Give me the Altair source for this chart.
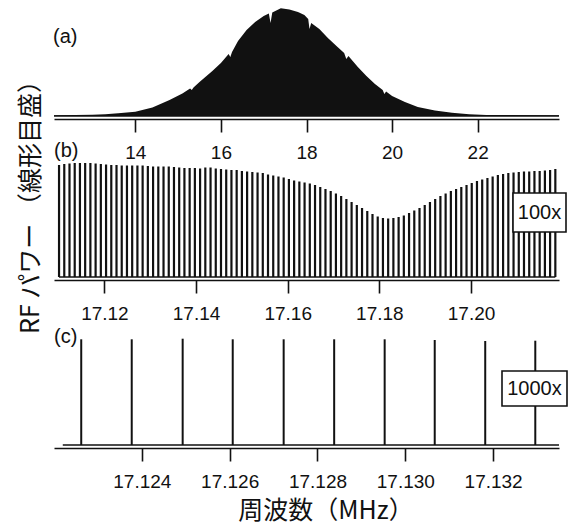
import altair as alt
import pandas as pd

# ---------------- data ----------------
# (a) full comb envelope: frequency (MHz) and relative power (arb.)
a_freq = [12.10, 12.60, 13.00, 13.30, 13.60, 14.00, 14.40, 14.80, 15.10, 15.28,
          15.32, 15.36, 15.50, 15.80, 16.00, 16.18, 16.22, 16.26, 16.40, 16.60,
          16.80, 17.00, 17.12, 17.16, 17.20, 17.40, 17.60, 17.80, 17.95, 18.04,
          18.07, 18.11, 18.30, 18.50, 18.70, 18.88, 18.93, 18.98, 19.20, 19.40,
          19.60, 19.78, 19.82, 19.86, 20.00, 20.30, 20.60, 21.00, 21.40, 21.80,
          22.20, 23.90]
a_power = [0.8, 1.0, 1.3, 1.7, 2.7, 4.3, 8.6, 16.0, 22.5, 27.5,
           26.0, 28.5, 34.0, 45.0, 53.0, 62.0, 59.0, 64.0, 75.0, 86.0,
           94.0, 100.0, 102.5, 93.0, 103.5, 107.7, 106.5, 104.0, 101.0, 97.0,
           87.0, 93.0, 87.0, 78.0, 70.0, 63.0, 57.0, 60.0, 49.0, 40.0,
           32.0, 26.0, 22.0, 24.5, 20.0, 14.0, 9.0, 5.5, 3.2, 1.7,
           1.1, 0.8]

# (b) 100x zoom: individual comb teeth
b_freq = [17.11010, 17.11124, 17.11238, 17.11352, 17.11466, 17.11580, 17.11694, 17.11808,
          17.11922, 17.12036, 17.12150, 17.12264, 17.12378, 17.12492, 17.12606, 17.12720,
          17.12834, 17.12948, 17.13062, 17.13176, 17.13290, 17.13404, 17.13518, 17.13632,
          17.13746, 17.13860, 17.13974, 17.14088, 17.14202, 17.14316, 17.14430, 17.14544,
          17.14658, 17.14772, 17.14886, 17.15000, 17.15114, 17.15228, 17.15342, 17.15456,
          17.15570, 17.15684, 17.15798, 17.15912, 17.16026, 17.16140, 17.16254, 17.16368,
          17.16482, 17.16596, 17.16710, 17.16824, 17.16938, 17.17052, 17.17166, 17.17280,
          17.17394, 17.17508, 17.17622, 17.17736, 17.17850, 17.17964, 17.18078, 17.18192,
          17.18306, 17.18420, 17.18534, 17.18648, 17.18762, 17.18876, 17.18990, 17.19104,
          17.19218, 17.19332, 17.19446, 17.19560, 17.19674, 17.19788, 17.19902, 17.20016,
          17.20130, 17.20244, 17.20358, 17.20472, 17.20586, 17.20700, 17.20814, 17.20928,
          17.21042, 17.21156, 17.21270, 17.21384, 17.21498, 17.21612, 17.21726, 17.21840]
b_power = [112, 113, 113.5, 114, 114, 114, 114, 113.5, 113, 112.5,
           112, 112, 111.5, 111.5, 111.5, 111.5, 111.5, 111, 110.5, 110.5,
           110.5, 110.5, 110, 109.5, 109, 109, 109, 108.5, 109.5, 109.5,
           108.5, 108, 107.5, 107, 107, 106, 105.5, 105, 104.5, 104,
           102.5, 101.5, 100.5, 99.5, 98, 96.5, 95.5, 94.5, 93.5, 92,
           90, 88, 86, 83.5, 81, 78, 75, 72, 69, 66,
           63, 60.5, 59, 58.5, 59, 60, 61.5, 64, 66.5, 69,
           72, 75, 78, 81, 83.5, 86, 88, 90, 92, 94,
           96, 97.5, 99, 100.5, 102, 103, 104, 104.5, 105, 105.5,
           105.5, 106, 106, 106.5, 107, 108]

# (c) 1000x zoom
c_freq = [17.12262, 17.12377, 17.12493, 17.12607, 17.12723,
          17.12838, 17.12953, 17.13067, 17.13182, 17.13296]
c_power = [105.7, 105.7, 106.3, 105.7, 105.7, 105.7, 105.7, 105.0, 104.0, 104.3]

a_ticks = [14, 16, 18, 20, 22]
b_ticks = [17.12, 17.14, 17.16, 17.18, 17.20]
c_ticks = [17.124, 17.126, 17.128, 17.130, 17.132]

y_title = "RF パワー （線形目盛）"
x_title = "周波数（MHz）"

# ---------------- styling ----------------
W = 505
FONT = "Liberation Sans"
JP = "Noto Sans CJK JP"
INK = "#111111"


def xaxis(values, fmt):
    return alt.Axis(values=values, format=fmt, title=None, grid=False,
                    domainColor=INK, domainWidth=1.6, tickColor=INK, tickWidth=1.6,
                    tickSize=13, labelFont=FONT, labelFontSize=19, labelColor=INK,
                    labelPadding=11, labelFlush=False, labelOverlap=False)


def label(txt, x, y, size=20, font=FONT, align="left", angle=None):
    kw = dict(font=font, fontSize=size, color=INK, align=align, baseline="middle")
    if angle is not None:
        kw["angle"] = angle
    return alt.Chart(pd.DataFrame({"t": [txt]})).mark_text(**kw).encode(
        x=alt.value(x), y=alt.value(y), text="t:N")


def baseline(freqs, xs):
    d = pd.DataFrame({"f0": [freqs[0]], "f1": [freqs[-1]]})
    return alt.Chart(d).mark_rule(color=INK, strokeWidth=1.6).encode(
        x=alt.X("f0:Q", scale=xs), x2="f1:Q", y=alt.datum(0))


# ---------------- panel (a) ----------------
xs_a = alt.Scale(domain=[12.1, 23.9], nice=False, zero=False)
ys_a = alt.Scale(domain=[-3, 111], nice=False, zero=False)
da = pd.DataFrame({"f": a_freq, "p": a_power})
area_a = alt.Chart(da).mark_area(color=INK).encode(
    x=alt.X("f:Q", scale=xs_a, axis=xaxis(a_ticks, "d")),
    y=alt.Y("p:Q", scale=ys_a, axis=None),
    y2=alt.datum(0))
pa = alt.layer(area_a, baseline(a_freq, xs_a), label("(a)", -1, 31.5)).properties(
    width=W, height=114)

# ---------------- panel (b) ----------------
xs_b = alt.Scale(domain=[17.109, 17.2192], nice=False, zero=False)
ys_b = alt.Scale(domain=[-3, 117], nice=False, zero=False)
db = pd.DataFrame({"f": b_freq, "p": b_power})
bars_b = alt.Chart(db).mark_rule(color=INK, strokeWidth=2.2).encode(
    x=alt.X("f:Q", scale=xs_b, axis=xaxis(b_ticks, ".2f")),
    y=alt.Y("p:Q", scale=ys_b, axis=None),
    y2=alt.datum(0))
box_b = alt.Chart(pd.DataFrame({"t": ["100x"]})).mark_rect(
    fill="white", stroke=INK, strokeWidth=1.6).encode(
    x=alt.value(459), x2=alt.value(512), y=alt.value(33), y2=alt.value(72))
pb = alt.layer(bars_b, baseline(b_freq, xs_b), box_b,
               label("100x", 485.5, 52.5, size=20, align="center"),
               label("(b)", 0, -9.5),
               label(y_title, -23, 41, size=25, font=JP, align="center", angle=270)
               ).properties(width=W, height=120)

# ---------------- panel (c) ----------------
xs_c = alt.Scale(domain=[17.122, 17.1335], nice=False, zero=False)
ys_c = alt.Scale(domain=[-3, 124], nice=False, zero=False)
dc = pd.DataFrame({"f": c_freq, "p": c_power})
lines_c = alt.Chart(dc).mark_rule(color=INK, strokeWidth=2).encode(
    x=alt.X("f:Q", scale=xs_c, axis=xaxis(c_ticks, ".3f")),
    y=alt.Y("p:Q", scale=ys_c, axis=None),
    y2=alt.datum(0))
box_c = alt.Chart(pd.DataFrame({"t": ["1000x"]})).mark_rect(
    fill="white", stroke=INK, strokeWidth=1.6).encode(
    x=alt.value(448), x2=alt.value(513), y=alt.value(50), y2=alt.value(85))
pc = alt.layer(lines_c, baseline([17.1222, 17.1335], xs_c), box_c,
               label("1000x", 480.5, 67.5, size=20, align="center"),
               label("(c)", 0, 15.5),
               label(x_title, 272, 189.5, size=25, font=JP, align="center")
               ).properties(width=W, height=127)

chart = alt.vconcat(pa, pb, pc, spacing=41, bounds="flush").configure_view(
    stroke=None).properties(padding={"left": 18, "top": 5, "right": 0, "bottom": 1})

chart.save("out.html", embed_options={"renderer": "svg", "actions": False})
